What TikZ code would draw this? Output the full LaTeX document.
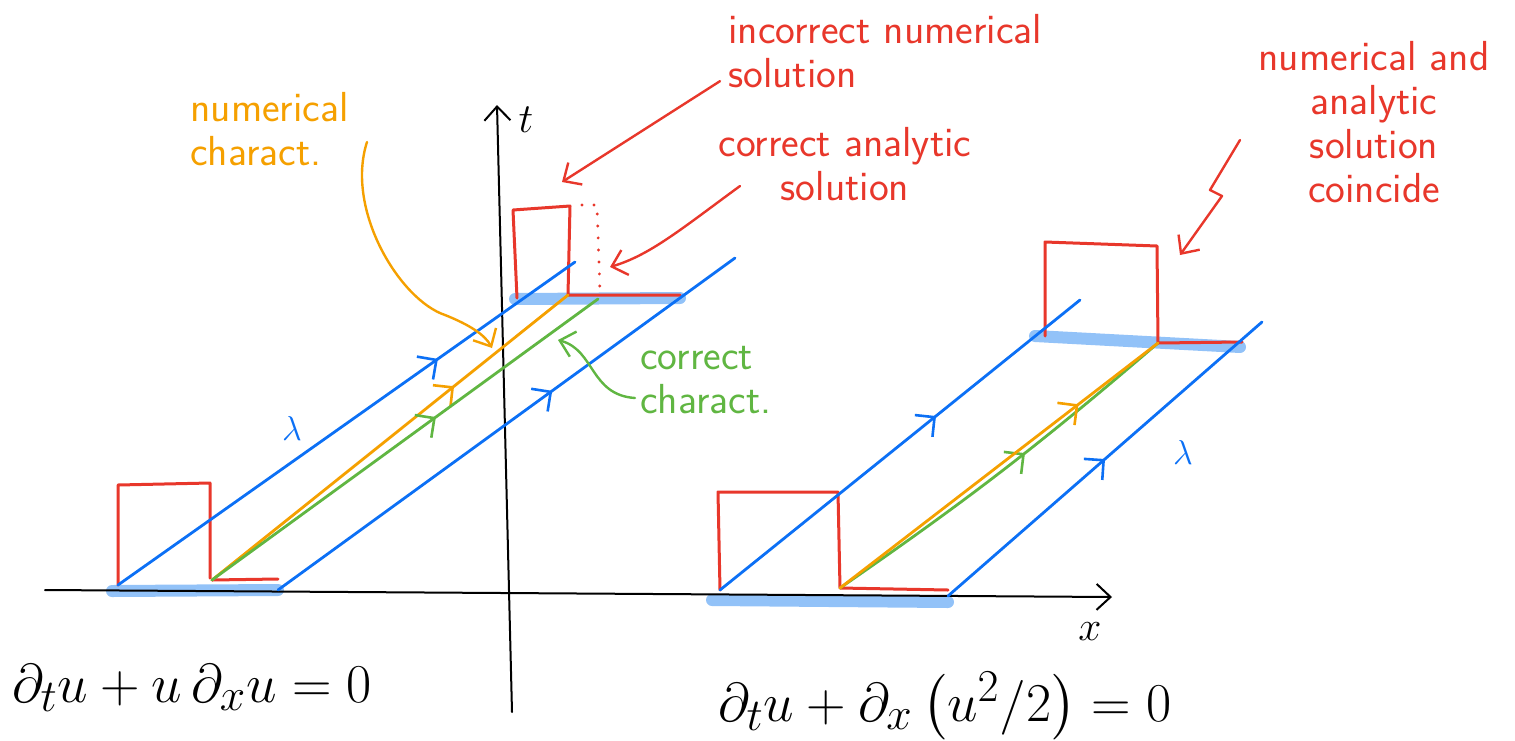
\documentclass[tikz,border=0pt]{standalone}
\usepackage{amsmath,amssymb}
\usepackage{xcolor}
\usepackage{tikz}
\usetikzlibrary{arrows.meta, positioning, calc, decorations.markings}
\definecolor{SketchRed}{RGB}{232, 55, 43}
\definecolor{SketchBlue}{RGB}{12, 112, 245}
\definecolor{SketchOrange}{RGB}{245, 160, 0}
\definecolor{SketchGreen}{RGB}{96, 182, 66}
\definecolor{ShadeBlue}{RGB}{146, 194, 248}

\begin{document}
\begin{tikzpicture}[x=0.5pt, y=-0.5pt, line cap=round, line join=round,
    axisline/.style={draw=black, line width=1pt, -{Straight Barb[length=7pt, width=13pt, line width=1pt]}},
    pulse/.style={draw=SketchRed, line width=1.5pt},
    shade/.style={draw=ShadeBlue, line width=6pt},
    charline/.style={line width=1.4pt},
    midarrow/.style={postaction={decorate},
      decoration={markings, mark=at position #1 with {\arrow{Straight Barb[length=7pt, width=14pt, line width=1.3pt]}}}},
    note/.style={font=\fontsize{21}{22}\selectfont\sffamily, inner sep=0pt},
    pointer/.style={line width=1.2pt, -{Straight Barb[length=7pt, width=13pt, line width=1.2pt]}}
  ]
  \useasboundingbox (0,0) rectangle (1515,740);

  % feet and tops of the characteristics
  \coordinate (La) at (118,585);
  \coordinate (Lb) at (212,580);
  \coordinate (Lc) at (278,590);
  \coordinate (Ta) at (575,262);
  \coordinate (Tb) at (568,295);
  \coordinate (Tc) at (598,299);
  \coordinate (Td) at (735,258);
  \coordinate (Ra) at (720,590);
  \coordinate (Rb) at (840,588);
  \coordinate (Rc) at (948,596);
  \coordinate (Sa) at (1080,300);
  \coordinate (Sb) at (1158,343);
  \coordinate (Sd) at (1262,322);

  % shaded supports
  \draw[shade] (112,591) -- (278,590);
  \draw[shade] (515,299) -- (680,298);
  \draw[shade] (712,600) -- (948,602);
  \draw[shade] (1035,336) -- (1240,347);

  % axes
  \draw[axisline] (45,590) -- (1112,597);
  \draw[axisline] (512,712) -- (497,105);
  \node[font=\huge] (xlab) at (1090,632) {$x$};
  \node[font=\huge] (tlab) at (526,120) {$t$};

  % left: non conservative form
  \draw[pulse] (La) -- (118,485) -- (210,483) -- (210,578);
  \draw[pulse] (Lb) -- (278,579);
  \draw[pulse] (517,298) -- (513,210) -- (570,206) -- (Tb) -- (680,295);
  \draw[pulse, line width=1.6pt, dash pattern=on 0pt off 6pt] (582,205) -- (597,205) -- (600,292);
  \draw[charline, SketchBlue, midarrow=0.7] (La) -- (Ta);
  \draw[charline, SketchBlue, midarrow=0.6] (Lc) -- (Td);
  \draw[charline, SketchOrange, midarrow=0.68] (Lb) -- (Tb);
  \draw[charline, SketchGreen, midarrow=0.58] (Lb) -- (Tc);
  \node[font=\LARGE, text=SketchBlue] (lamL) at (292,428) {$\lambda$};

  % right: conservative form
  \draw[pulse] (Ra) -- (718,492) -- (838,492) -- (Rb) -- (948,590);
  \draw[pulse] (1045,336) -- (1045,242) -- (1157,246) -- (Sb) -- (1242,342);
  \draw[charline, SketchBlue, midarrow=0.6] (Ra) -- (Sa);
  \draw[charline, SketchBlue, midarrow=0.5] (Rc) -- (Sd);
  \draw[charline, SketchGreen, midarrow=0.57] (Rb) to[bend right=3] (Sb);
  \draw[charline, SketchOrange, midarrow=0.75] (Rb) -- (Sb);
  \node[font=\LARGE, text=SketchBlue] (lamR) at (1183,452) {$\lambda$};

  % notes
  \node[note, text=SketchRed, align=left, anchor=north west] (incorrect) at (728,14) {incorrect numerical\\solution};
  \node[note, text=SketchRed, align=center] (analytic) at (845,164) {correct analytic\\solution};
  \node[note, text=SketchRed, align=center] (coincide) at (1374,122) {numerical and\\analytic\\solution\\coincide};
  \node[note, text=SketchOrange, align=left, anchor=north west] (numchar) at (190,92) {numerical\\charact.};
  \node[note, text=SketchGreen, align=left, anchor=north west] (corchar) at (640,346) {correct\\charact.};

  \coordinate (incorrectTip) at (562,182);
  \coordinate (analyticTip) at (610,267);
  \coordinate (coincideTip) at (1180,255);
  \coordinate (numcharTip) at (492,348);
  \coordinate (corcharTip) at (558,340);

  \draw[pointer, SketchRed] (incorrect.west) ++(-8,30) -- (incorrectTip);
  \draw[pointer, SketchRed] (740,186) .. controls (680,230) and (650,255) .. (analyticTip);
  \draw[pointer, SketchRed] (1240,140) -- (1210,190) -- (1222,196) -- (coincideTip);
  \draw[pointer, SketchOrange] (367,142) .. controls (345,210) and (400,300) .. (445,315) .. controls (470,325) and (485,335) .. (numcharTip);
  \draw[pointer, SketchGreen] (635,398) .. controls (590,395) and (595,350) .. (corcharTip);

  % equations
  \node[font=\Huge, scale=1.1, transform shape] (eqL) at (192,688) {$\partial_t u + u\,\partial_x u = 0$};
  \node[font=\Huge, scale=1.1, transform shape] (eqR) at (945,706) {$\partial_t u + \partial_x\left(u^2/2\right) = 0$};
\end{tikzpicture}
\end{document}
